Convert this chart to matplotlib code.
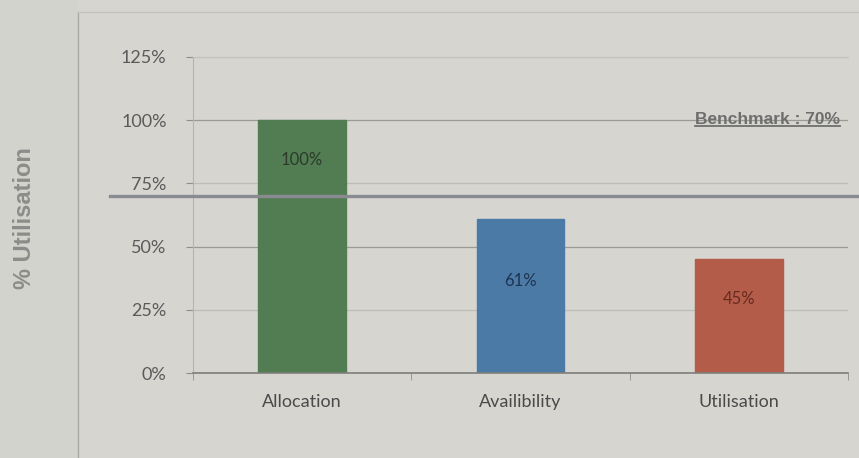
import matplotlib
matplotlib.use("Agg")
import matplotlib.pyplot as plt
from matplotlib.patches import Rectangle
from matplotlib.lines import Line2D
import numpy as np

# data
categories = ["Allocation", "Availibility", "Utilisation"]
values = [100, 61, 45]
labels = ["100%", "61%", "45%"]
benchmark = 70
yticks = [0, 25, 50, 75, 100, 125]

bar_colors = ["#527d52", "#4b7aa6", "#b35c4a"]
label_colors = ["#2b3a2b", "#1e3350", "#6a2a1f"]
label_offsets = [-40, -62, -40]  # px below the bar top

fig = plt.figure(figsize=(8.59, 4.58), dpi=100)
fig.patch.set_facecolor("#d6d5d0")

# left strip with the axis title
fig.patches.append(Rectangle((0, 0), 78 / 859, 1, transform=fig.transFigure,
                             facecolor="#d3d3cd", edgecolor="none", zorder=0))
fig.lines.append(Line2D([78 / 859, 78 / 859], [0, 1 - 12 / 458], transform=fig.transFigure,
                        color="#a9a9a4", lw=1.0))
fig.lines.append(Line2D([78 / 859, 1], [1 - 12 / 458, 1 - 12 / 458], transform=fig.transFigure,
                        color="#c4c4bf", lw=1.0))
fig.text(25 / 859, 1 - 218 / 458, "% Utilisation", rotation=90, ha="center", va="center",
         fontsize=17, fontweight="bold", color="#8c8c8a", family="Liberation Sans")

ax = fig.add_axes([193 / 859, 1 - 373 / 458, 655 / 859, 316 / 458])
ax.set_facecolor("none")

x = np.arange(len(categories))
ax.bar(x, values, width=0.4, color=bar_colors, edgecolor=bar_colors, lw=1, zorder=3)

for i, v in enumerate(values):
    ax.annotate(labels[i], (x[i], v), xytext=(0, label_offsets[i]), textcoords="offset pixels",
                ha="center", va="center", fontsize=12, color=label_colors[i],
                family="Lato", zorder=5)

ax.set_xlim(-0.5, len(categories) - 0.5)
ax.set_ylim(0, 125)
ax.set_yticks(yticks)
ax.set_yticklabels([f"{t}%" for t in yticks])
ax.set_xticks(x)
ax.set_xticklabels(categories)
ax.set_xticks(np.arange(-0.5, len(categories)), minor=True)

ax.tick_params(axis="y", length=5, color="#8e8e8a", pad=14, labelsize=13, labelcolor="#5a5a5a")
ax.tick_params(axis="x", which="major", length=0, pad=15, labelsize=13, labelcolor="#4a4a4a")
ax.tick_params(axis="x", which="minor", length=5, color="#8e8e8a")
for lab in ax.get_xticklabels() + ax.get_yticklabels():
    lab.set_family("Lato")

ax.yaxis.grid(True, color="#9a9a96", lw=0.9, zorder=1)
# the in-between gridlines are fainter in the original
for t_val, gl in zip(yticks, ax.get_ygridlines()):
    if t_val % 50:
        gl.set_color("#bdbdb8")
ax.set_axisbelow(True)
ax.spines["right"].set_visible(False)
ax.spines["top"].set_color("#c2c2bd")
ax.spines["left"].set_color("#b5b5b0")
ax.spines["bottom"].set_color("#7e7e7a")
ax.spines["bottom"].set_linewidth(1.2)
ax.spines["bottom"].set_zorder(4)

# benchmark line, runs out of the plot area
ax.axhline(benchmark, xmin=-83 / 655, xmax=666 / 655, color="#8a8b92", lw=2.4,
           clip_on=False, zorder=4)

t = ax.text(0.988, 98.3, f"Benchmark : {benchmark}%", transform=ax.get_yaxis_transform(),
            ha="right", va="baseline", fontsize=12.5, fontweight="bold", color="#6e6e6e",
            family="Liberation Sans", zorder=5)
fig.canvas.draw()
bb = t.get_window_extent()
inv = fig.transFigure.inverted()
(x0, y0), (x1, y1) = inv.transform([(bb.x0, bb.y0 + 1), (bb.x1, bb.y0 + 1)])
fig.lines.append(Line2D([x0, x1], [y0, y1], transform=fig.transFigure,
                        color="#6e6e6e", lw=1.3))

fig.savefig("out.png", dpi=100, facecolor=fig.get_facecolor())
